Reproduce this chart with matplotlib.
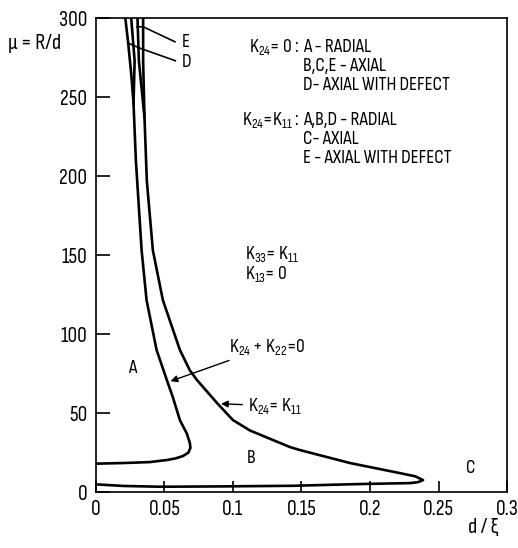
import matplotlib

matplotlib.use("Agg")
import matplotlib.pyplot as plt

# ---- data ------------------------------------------------------------------
# boundary K24 + K22 = 0 (from top, round the nose, back to d/xi = 0)
left_d = [0.0215, 0.0235, 0.0258, 0.0275, 0.0292, 0.0334, 0.0370, 0.0443, 0.0518,
          0.0562, 0.0613, 0.0664, 0.0686, 0.0690, 0.0675, 0.0635, 0.0580, 0.0518,
          0.0394, 0.0200, 0.0]
left_mu = [300, 285, 265, 246, 210, 153, 121.5, 90, 70.9,
           60, 45.6, 37, 31, 28, 25, 22.8, 21.3, 20.3,
           19, 18.4, 18]

# boundary K24 = K11 (from top, out to the tip, back along the bottom)
right_d = [0.0345, 0.0345, 0.0355, 0.0372, 0.0416, 0.0489, 0.0613, 0.0686, 0.0737,
           0.0891, 0.1000, 0.1124, 0.1416, 0.1489, 0.1854, 0.2219, 0.2330, 0.2387,
           0.2350, 0.2292, 0.1927, 0.1438, 0.0900, 0.0467, 0.0200, 0.0]
right_mu = [300, 273, 237, 197, 153, 121.5, 90, 77, 71,
            55.7, 45.6, 39, 28.5, 26.6, 18.4, 12, 10, 7.6,
            6.3, 5.7, 5.1, 4.0, 3.6, 3.4, 3.9, 4.9]

# short branches at the top (D and E regions)
d_branch_d = [0.0258, 0.0283, 0.0275]
d_branch_mu = [300, 273, 246]
e_branch_d = [0.0304, 0.0314, 0.0355]
e_branch_mu = [300, 273, 237]

# leader lines for the D / E labels
e_lead_d = [0.0300, 0.0345, 0.0577]
e_lead_mu = [294.5, 294.5, 285]
d_lead_d = [0.0240, 0.0320, 0.0580]
d_lead_mu = [284, 281, 273]

region_labels = ["A", "B", "C", "D", "E"]
region_d = [0.0234, 0.110, 0.270, 0.0625, 0.0625]
region_mu = [78.5, 21.5, 15, 272, 285]

legend_rows = [
    (r"K$_{24}$= 0 :", "A - RADIAL"),
    ("", "B,C,E - AXIAL"),
    ("", "D- AXIAL WITH DEFECT"),
    (r"K$_{24}$=K$_{11}$ :", "A,B,D - RADIAL"),
    ("", "C- AXIAL"),
    ("", "E - AXIAL WITH DEFECT"),
]
legend_mu = [281.5, 269.5, 257.5, 235.5, 223.5, 211.5]

x_ticks = [0, 0.05, 0.1, 0.15, 0.2, 0.25, 0.3]
x_ticklabels = ["0", "0.05", "0.1", "0.15", "0.2", "0.25", "0.3"]
y_ticks = [0, 50, 100, 150, 200, 250, 300]

# ---- styling ----------------------------------------------------------------
FONT = "Sofia Sans Condensed"
plt.rcParams["font.family"] = [FONT, "DejaVu Sans"]
plt.rcParams["mathtext.fontset"] = "custom"
plt.rcParams["mathtext.rm"] = FONT
plt.rcParams["mathtext.it"] = FONT
plt.rcParams["mathtext.default"] = "regular"

fig = plt.figure(figsize=(5.18, 5.48), dpi=100)
ax = fig.add_axes([0.185, 0.102, 0.794, 0.865])

lw = 1.9
for xs, ys in [(left_d, left_mu), (right_d, right_mu),
               (d_branch_d, d_branch_mu), (e_branch_d, e_branch_mu)]:
    ax.plot(xs, ys, color="black", lw=lw, solid_joinstyle="round")
for xs, ys in [(e_lead_d, e_lead_mu), (d_lead_d, d_lead_mu)]:
    ax.plot(xs, ys, color="black", lw=1.2)

fs = 14
for lab, x, y in zip(region_labels, region_d, region_mu):
    ax.text(x, y, lab, fontsize=fs, va="center", ha="left")

# two-column note block: "condition :" right-aligned, assignments left-aligned
col_split = 0.1485
for (k, v), y in zip(legend_rows, legend_mu):
    if k:
        ax.text(col_split, y, k, fontsize=fs, va="center", ha="right")
    ax.text(col_split + 0.0025, y, v, fontsize=fs, va="center", ha="left")

ax.text(0.1085, 151, r"K$_{33}$= K$_{11}$", fontsize=fs, va="center")
ax.text(0.1085, 138, r"K$_{13}$= 0", fontsize=fs, va="center")

arrow = dict(arrowstyle="-|>", color="black", lw=1.0, mutation_scale=10)
ax.annotate(r"K$_{24}$ + K$_{22}$=0", xy=(0.0526, 69.6), xytext=(0.0975, 92),
            fontsize=fs, va="center", ha="left", arrowprops=arrow)
ax.annotate(r"K$_{24}$= K$_{11}$", xy=(0.0893, 56), xytext=(0.111, 54.5),
            fontsize=fs, va="center", ha="left", arrowprops=arrow)

ax.set_xlim(0, 0.3)
ax.set_ylim(0, 300)
ax.set_xticks(x_ticks)
ax.set_xticklabels(x_ticklabels)
ax.set_yticks(y_ticks)
ax.tick_params(direction="in", length=8, width=1.2, labelsize=15.5, pad=6)
ax.tick_params(axis="y", length=10)
for s in ax.spines.values():
    s.set_linewidth(1.2)

fig.text(0.015, 0.92, "\u03bc = R/d", fontsize=16, va="center", ha="left")
fig.text(0.903, 0.038, "d / \u03be", fontsize=16, va="center", ha="left")

fig.savefig("out.png", dpi=100)
